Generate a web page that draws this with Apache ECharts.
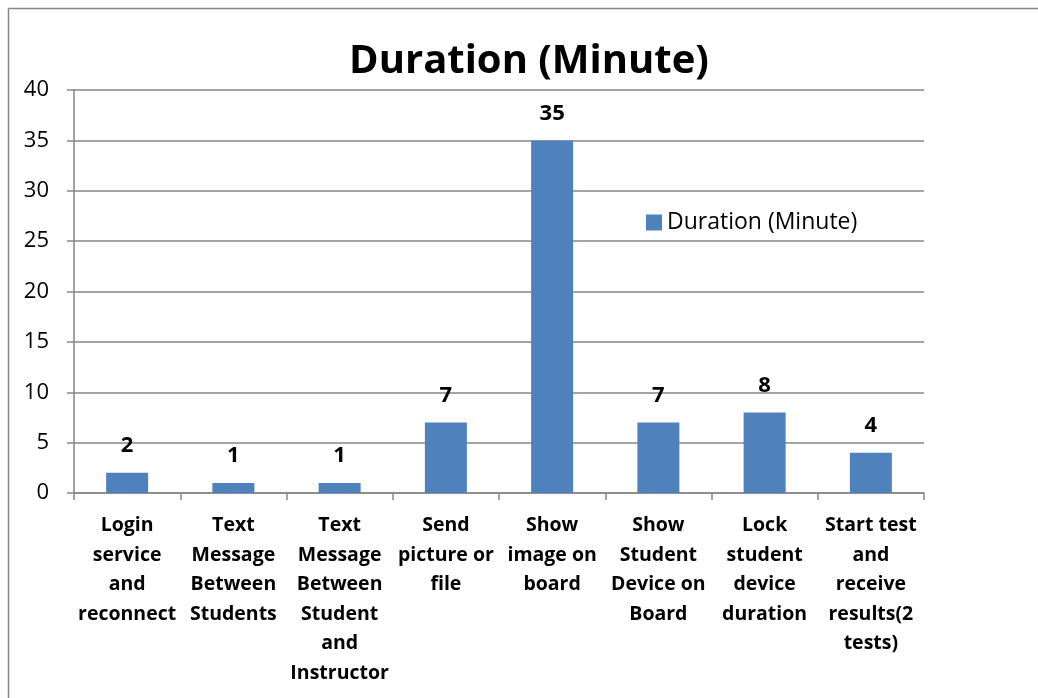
<!DOCTYPE html>
<html><head><meta charset="utf-8">
<script src="https://cdn.jsdelivr.net/npm/echarts@6/dist/echarts.min.js"></script>
<style>html,body{margin:0;padding:0;background:#fff}#c{width:1038px;height:698px}</style>
</head><body><div id="c"></div>
<script>
const categories = ["Login\nservice\nand\nreconnect","Text\nMessage\nBetween\nStudents","Text\nMessage\nBetween\nStudent\nand\nInstructor","Send\npicture or\nfile","Show\nimage on\nboard","Show\nStudent\nDevice on\nBoard","Lock\nstudent\ndevice\nduration","Start test\nand\nreceive\nresults(2\ntests)"];
const values = [2,1,1,7,35,7,8,4];
const seriesName = "Duration (Minute)";
const chart = echarts.init(document.getElementById('c'));
const F = "'Open Sans', 'Noto Sans', sans-serif";
chart.setOption({
  animation:false,
  title:{text:"Duration (Minute)",left:524,top:37,textAlign:'center',textStyle:{fontFamily:F,fontSize:40,fontWeight:'bold',color:'#000'}},
  legend:{left:641,top:206,itemWidth:16,itemHeight:16,itemGap:6,icon:'rect',textStyle:{fontFamily:F,fontSize:23,color:'#000'},data:[seriesName]},
  grid:{left:74,right:114,top:90,bottom:205,containLabel:false},
  xAxis:{type:'category',data:categories,
    axisLine:{lineStyle:{color:'#868686',width:1.5}},
    axisTick:{show:true,length:7,lineStyle:{color:'#868686',width:1.5}},
    axisLabel:{interval:0,margin:18,fontFamily:F,fontSize:19.5,fontWeight:'bold',color:'#000',lineHeight:29.5}},
  yAxis:{type:'value',min:0,max:40,interval:5,
    axisLine:{show:true,lineStyle:{color:'#868686',width:1.5}},
    axisTick:{show:true,length:7,lineStyle:{color:'#868686',width:1.5}},
    splitLine:{lineStyle:{color:'#868686',width:1.5}},
    axisLabel:{margin:25,fontFamily:F,fontSize:22,color:'#000'}},
  series:[{name:seriesName,type:'bar',data:values,barWidth:42,
    itemStyle:{color:'#4F81BD'},
    label:{show:true,position:'top',distance:16,fontFamily:F,fontSize:22,fontWeight:'bold',color:'#000'}}],
  graphic:[
    {type:'line',shape:{x1:8.5,y1:8.5,x2:1038,y2:8.5},style:{stroke:'#868686',lineWidth:1.5}},
    {type:'line',shape:{x1:8.5,y1:8.5,x2:8.5,y2:698},style:{stroke:'#868686',lineWidth:1.5}}
  ]
});
</script></body></html>
